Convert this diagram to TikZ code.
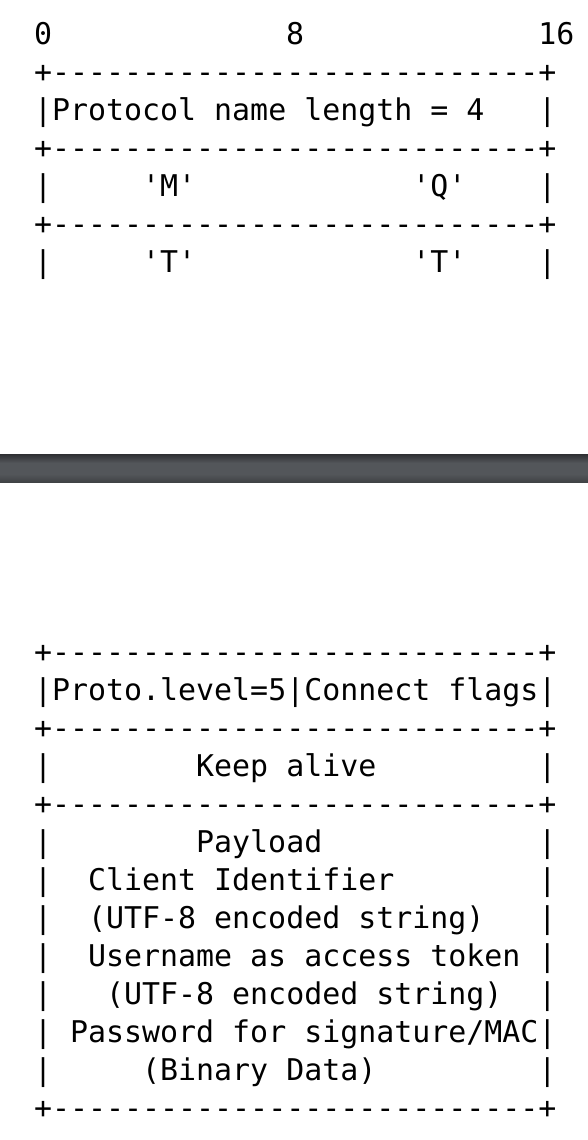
\documentclass[tikz,border=0pt]{standalone}
\usepackage{fontspec}
\setmonofont{DejaVu Sans Mono}
\definecolor{bartop}{RGB}{46,47,50}
\definecolor{barmid}{RGB}{83,86,90}
\definecolor{barbot}{RGB}{64,66,69}
\newcommand{\asciirule}{+---------------------------+}
\tikzset{ascii/.style={font=\ttfamily\fontsize{14.96pt}{19pt}\selectfont,text=black,inner sep=0pt,anchor=base west}}
\begin{document}
\begin{tikzpicture}[x=0.5pt,y=-0.5pt]
\useasboundingbox (0,0) rectangle (588,1140);
%divider bar
\fill[barmid] (0,454) rectangle (588,482);
\shade[top color=bartop,bottom color=barmid] (0,454) rectangle (588,463);
\shade[top color=barmid,bottom color=barbot] (0,474) rectangle (588,482);
%upper block: protocol name
\begin{scope}[shift={(33.7,44)},x=9.005pt,y=-19pt,every node/.style={ascii}]
\node (hdr0) at (0,0) {0};
\node (hdr8) at (14,0) {8};
\node (hdr16) at (28,0) {16};
\foreach \r in {1,3,5} {\node (trule\r) at (0,\r) {\asciirule};}
\foreach \r in {2,4,6} {\node (tl\r) at (0,\r) {|}; \node (tr\r) at (28,\r) {|};}
\node (namelen) at (1,2) {Protocol name length = 4};
\node (chM) at (6,4) {'M'};
\node (chQ) at (21,4) {'Q'};
\node (chTa) at (6,6) {'T'};
\node (chTb) at (21,6) {'T'};
\end{scope}
%lower block: level, flags, keep alive, payload
\begin{scope}[shift={(33.7,662)},x=9.005pt,y=-19pt,every node/.style={ascii}]
\foreach \r in {0,2,4,12} {\node (brule\r) at (0,\r) {\asciirule};}
\node (flags) at (0,1) {|Proto.level=5|Connect flags|};
\foreach \r in {3,5,6,...,11} {\node (bl\r) at (0,\r) {|}; \node (br\r) at (28,\r) {|};}
\node (keepalive) at (9,3) {Keep alive};
\node (payload) at (9,5) {Payload};
\node (clientid) at (3,6) {Client Identifier};
\node (clientenc) at (3,7) {(UTF-8 encoded string)};
\node (username) at (3,8) {Username as access token};
\node (userenc) at (4,9) {(UTF-8 encoded string)};
\node (password) at (2,10) {Password for signature/MAC};
\node (pwdata) at (6,11) {(Binary Data)};
\end{scope}
\end{tikzpicture}
\end{document}
